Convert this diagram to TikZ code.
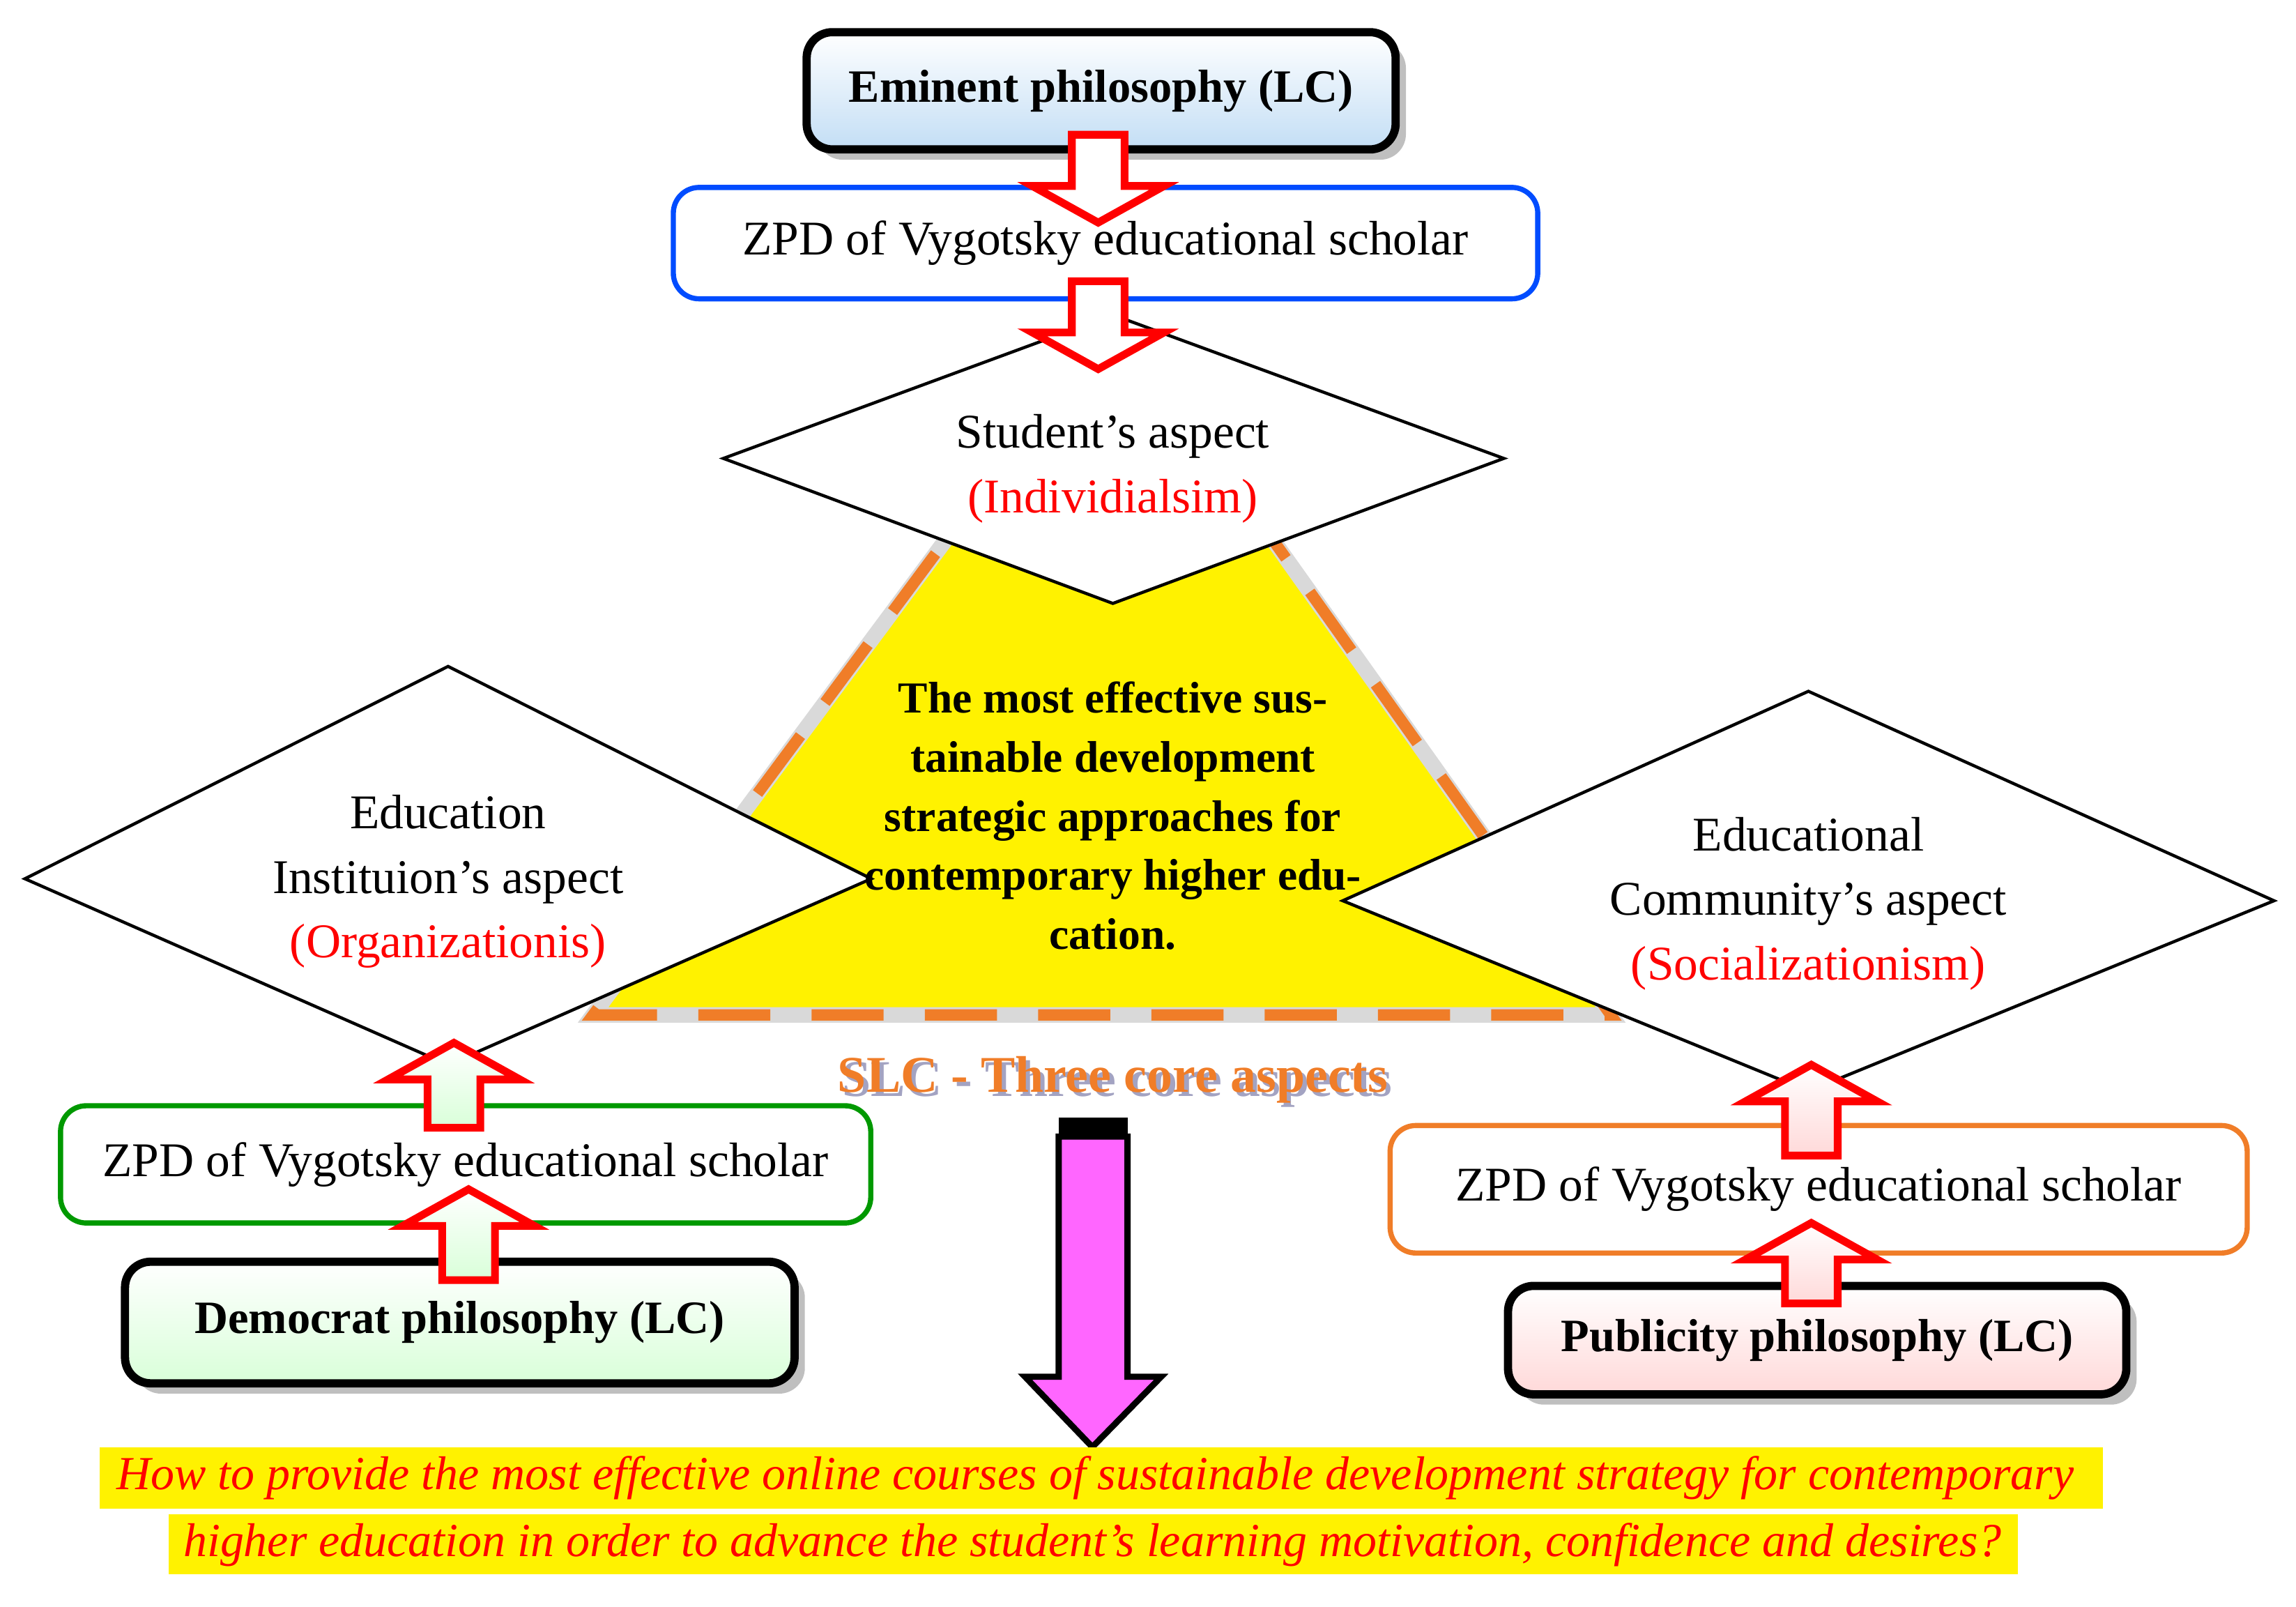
\documentclass[tikz,border=0pt]{standalone}
\usepackage{fontspec}
\setmainfont{Liberation Serif}
\usetikzlibrary{shadows,shapes.geometric}
\definecolor{ored}{RGB}{255,0,0}
\definecolor{dorange}{RGB}{240,125,40}
\definecolor{lblue}{RGB}{195,222,245}
\definecolor{magen}{RGB}{255,102,255}
\tikzset{
 x=0.01cm,y=-0.01cm,
 phil/.style={draw=black,line width=1.6pt,rounded corners=5pt,minimum height=0.8cm,font=\bfseries\fontsize{9}{11}\selectfont,drop shadow={opacity=0.5,shadow xshift=2pt,shadow yshift=-2pt}},
 zpd/.style={draw,line width=1pt,rounded corners=5pt,fill=white,font=\fontsize{9.4}{11}\selectfont},
 dia/.style={draw=black,line width=0.6pt,fill=white},
 atxt/.style={align=center,font=\fontsize{9.4}{12.5}\selectfont},
 arrowsty/.style={draw=ored,line width=1.5pt},
 pics/barr/.style args={#1/#2}{code={\path[arrowsty,top color=white,bottom color=#2] (0,0)--(45,25)--(18,25)--(18,#1)--(-18,#1)--(-18,25)--(-45,25)--cycle;}},
}
\begin{document}
\begin{tikzpicture}
\useasboundingbox (0,0) rectangle (1568,1097);
% triangle
\path[fill=yellow] (760,215)--(1100,693)--(405,693)--cycle;
\draw[gray!30,line width=3pt] (760,215)--(1100,693)--(405,693)--cycle;
\draw[dorange,line width=2.2pt,dash pattern=on 14pt off 8pt] (760,215)--(1100,693)--(405,693)--cycle;
% diamonds
\draw[dia] (494,313)--(760,215)--(1027,313)--(760,412)--cycle;
\draw[dia] (17,600)--(306,455)--(595,600)--(306,727)--cycle;
\draw[dia] (917,615)--(1235,472)--(1553,615)--(1235,745)--cycle;
\node[atxt] (stud) at (760,320) {Student’s aspect\\\textcolor{ored}{(Individialsim)}};
\node[atxt] (inst) at (306,602) {Education\\Instituion’s aspect\\\textcolor{ored}{(Organizationis)}};
\node[atxt] (comm) at (1235,617) {Educational\\Community’s aspect\\\textcolor{ored}{(Socializationism)}};
\node[align=center,font=\bfseries\fontsize{8.6}{11.5}\selectfont] (core) at (760,557) {The most effective sus-\\tainable development\\strategic approaches for\\contemporary higher edu-\\cation.};
% boxes
\node[phil,top color=white,bottom color=lblue,minimum width=4.02cm] (emin) at (752,62) {Eminent philosophy (LC)};
\node[zpd,draw=blue!70!cyan,minimum width=5.9cm,minimum height=0.76cm] (zpdt) at (755,166) {ZPD of Vygotsky educational scholar};
\node[zpd,draw=green!60!black,minimum width=5.53cm,minimum height=0.8cm] (zpdl) at (318,795) {ZPD of Vygotsky educational scholar};
\node[phil,top color=white,bottom color=green!15,minimum width=4.57cm,minimum height=0.83cm] (demo) at (314,903) {Democrat philosophy (LC)};
\node[zpd,draw=dorange,minimum width=5.85cm,minimum height=0.87cm] (zpdr) at (1242,812) {ZPD of Vygotsky educational scholar};
\node[phil,top color=white,bottom color=red!15,minimum width=4.22cm,minimum height=0.74cm] (publ) at (1241,915) {Publicity philosophy (LC)};
% arrows
\pic[rotate=180] at (750,152) {barr={60/white}};
\pic[rotate=180] at (750,252) {barr={60/white}};
\pic at (310,712) {barr={58/green!15}};
\pic at (320,812) {barr={62/green!15}};
\pic at (1237,727) {barr={62/red!15}};
\pic at (1237,835) {barr={55/red!15}};
% SLC
\node[font=\bfseries\fontsize{10}{12}\selectfont,text=blue!20!gray!60] at (763,740) {SLC - Three core aspects};
\node[font=\bfseries\fontsize{10}{12}\selectfont,text=dorange] (slc) at (760,737) {SLC - Three core aspects};
% magenta arrow
\fill[black] (723,763) rectangle (770,776);
\draw[black,line width=1.2pt,fill=magen] (723,776)--(770,776)--(770,940)--(793,940)--(746,988)--(700,940)--(723,940)--cycle;
% bottom text
\fill[yellow] (68,988) rectangle (1436,1030);
\fill[yellow] (115,1034) rectangle (1378,1075);
\node[font=\itshape\fontsize{9.2}{12}\selectfont,text=ored] (q1) at (748,1009) {How to provide the most effective online courses of sustainable development strategy for contemporary};
\node[font=\itshape\fontsize{9.2}{12}\selectfont,text=ored] (q2) at (746,1055) {higher education in order to advance the student’s learning motivation, confidence and desires?};
\end{tikzpicture}
\end{document}
